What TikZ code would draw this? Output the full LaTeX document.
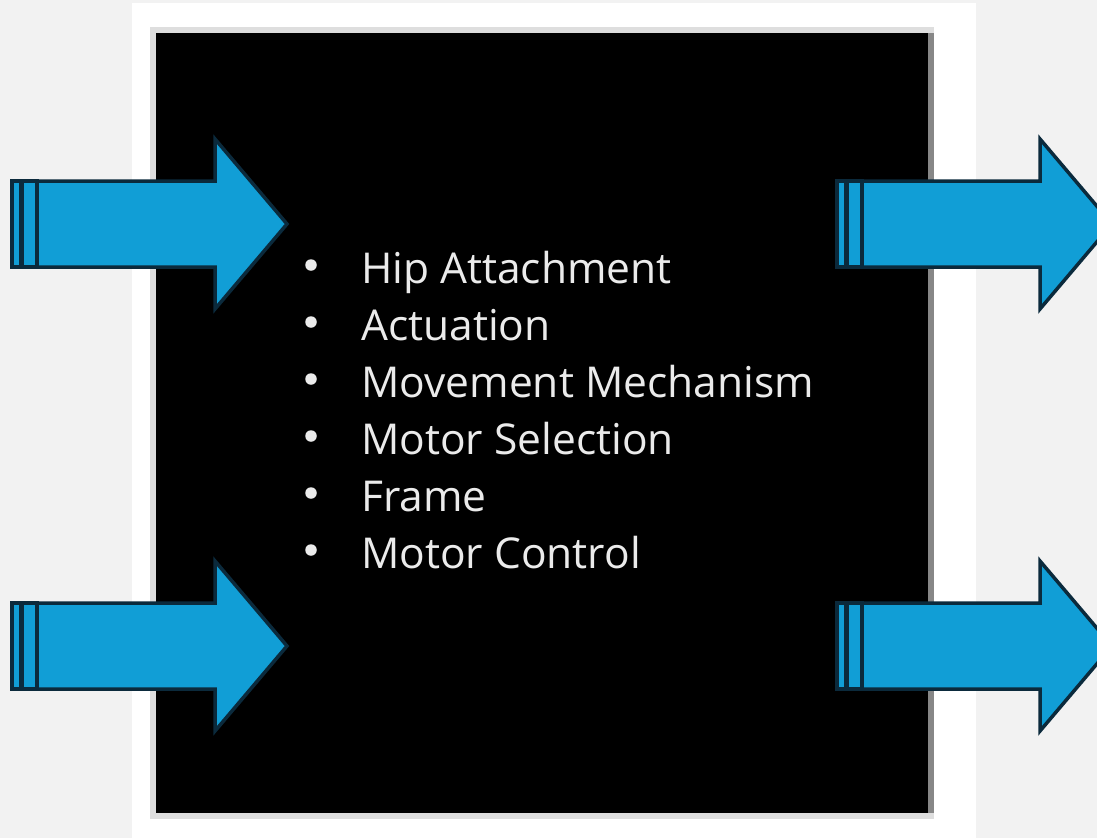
\documentclass[tikz,border=0pt]{standalone}
\usepackage{fontspec}
\setmainfont{Open Sans}
\usetikzlibrary{calc}

\definecolor{pagegray}{HTML}{F2F2F2}
\definecolor{arrowblue}{HTML}{119ED6}
\definecolor{arrowline}{HTML}{0B2A3C}
\definecolor{itemtext}{HTML}{EBEBEB}

% striped block arrow: #1 tail x, #2 centre y
\newcommand{\stripedarrow}[2]{%
  \draw[arrowpart] (#1,#2-43) rectangle (#1+9,#2+43);
  \draw[arrowpart] (#1+10,#2-43) rectangle (#1+25,#2+43);
  \draw[arrowpart] (#1+25,#2-43) -- (#1+203,#2-43) -- (#1+203,#2-85)
    -- (#1+275,#2) -- (#1+203,#2+85) -- (#1+203,#2+43)
    -- (#1+25,#2+43) -- cycle;
}

\begin{document}
\begin{tikzpicture}[
    x=1pt, y=-1pt,
    arrowpart/.style={fill=arrowblue, draw=arrowline, line width=3.5pt, line join=miter},
    bullet/.style={circle, fill=itemtext, inner sep=0pt, minimum size=11.5pt},
    item/.style={anchor=base west, text=itemtext, inner sep=0pt, font=\fontsize{42.5}{57}\selectfont}
]
    \useasboundingbox (0,0) rectangle (1097,838);
    \clip (0,0) rectangle (1097,838);

    % page and slide
    \fill[pagegray] (0,0) rectangle (1097,838);
    \fill[white] (132,3) rectangle (976,838);

    % black block with its edge strips
    \fill[black!13] (150,27) rectangle (934,819);
    \fill[black!47] (928,33) rectangle (934,813);
    \fill[black] (156,33) rectangle (928,813);

    % inputs and outputs
    \stripedarrow{12}{224}
    \stripedarrow{12}{646}
    \stripedarrow{837}{224}
    \stripedarrow{837}{646}

    % list of parts
    \foreach \txt [count=\i] in {Hip Attachment, Actuation, Movement Mechanism,
                                 Motor Selection, Frame, Motor Control} {
        \node[bullet] (dot\i) at (311,265+57*\i-57) {};
        \node[item] (item\i) at (361,283+57*\i-57) {\txt};
    }
\end{tikzpicture}
\end{document}
